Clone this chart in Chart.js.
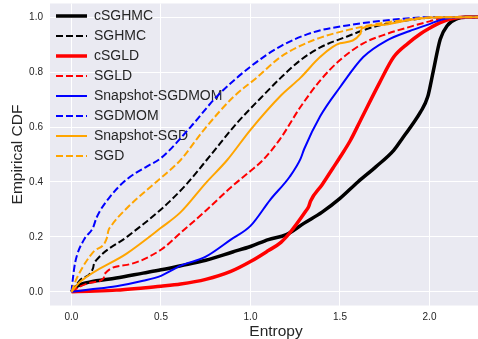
<!DOCTYPE html>
<html>
<head>
<meta charset="utf-8">
<script src="https://cdn.jsdelivr.net/npm/chart.js@4"></script>
<style>
  html, body { margin: 0; padding: 0; overflow: hidden; background: #fff; }
</style>
</head>
<body>
<canvas id="myChart" width="510" height="339"></canvas>
<script>
'use strict'

// tick labels
let xTicks = [0.0, 0.5, 1.0, 1.5, 2.0];
let yTicks = [0.0, 0.2, 0.4, 0.6, 0.8, 1.0];

let seriesNames = ['cSGHMC', 'SGHMC', 'cSGLD', 'SGLD', 'Snapshot-SGDMOM', 'SGDMOM', 'Snapshot-SGD', 'SGD'];

// entropy (x) and empirical CDF (y)
let cSGHMCx = [0, 0.03, 0.1, 0.25, 0.4, 0.5, 0.61, 0.75, 0.9, 1.0, 1.1, 1.2, 1.3, 1.4, 1.5, 1.6, 1.7, 1.8, 1.85, 1.91, 1.95, 1.99, 2.02, 2.06, 2.1, 2.155, 2.2, 2.45];
let cSGHMCy = [0, 0.02, 0.035, 0.05, 0.068, 0.08, 0.095, 0.115, 0.145, 0.165, 0.19, 0.208, 0.25, 0.29, 0.34, 0.40, 0.455, 0.515, 0.56, 0.615, 0.655, 0.71, 0.80, 0.92, 0.97, 0.995, 1.0, 1.0];

let SGHMCx = [0, 0.05, 0.12, 0.125, 0.14, 0.31, 0.5, 0.64, 0.78, 0.925, 1.056, 1.17, 1.28, 1.39, 1.54, 1.69, 1.89, 2.05, 2.45];
let SGHMCy = [0, 0.044, 0.085, 0.1, 0.116, 0.2, 0.3, 0.39, 0.5, 0.615, 0.705, 0.78, 0.844, 0.89, 0.93, 0.965, 0.99, 1.0, 1.0];

let cSGLDx = [0, 0.1, 0.25, 0.4, 0.5, 0.61, 0.75, 0.89, 1.0, 1.1, 1.17, 1.22, 1.31, 1.325, 1.335, 1.4, 1.46, 1.5, 1.557, 1.615, 1.72, 1.8, 1.88, 1.95, 2.0, 2.06, 2.13, 2.2, 2.45];
let cSGLDy = [0, 0.002, 0.006, 0.014, 0.02, 0.028, 0.045, 0.074, 0.11, 0.15, 0.18, 0.215, 0.295, 0.31, 0.33, 0.39, 0.45, 0.49, 0.55, 0.625, 0.76, 0.855, 0.905, 0.94, 0.96, 0.98, 0.995, 1.0, 1.0];

let SGLDx = [0, 0.05, 0.12, 0.18, 0.185, 0.31, 0.5, 0.61, 0.75, 0.89, 1.0, 1.07, 1.165, 1.28, 1.39, 1.5, 1.63, 1.765, 1.89, 2.0, 2.1, 2.45];
let SGLDy = [0, 0.02, 0.035, 0.05, 0.065, 0.098, 0.153, 0.215, 0.295, 0.38, 0.44, 0.48, 0.556, 0.674, 0.77, 0.844, 0.905, 0.94, 0.965, 0.985, 1.0, 1.0];

let snapMOMx = [0, 0.1, 0.25, 0.4, 0.5, 0.61, 0.75, 0.89, 1.0, 1.11, 1.22, 1.28, 1.3, 1.39, 1.5, 1.63, 1.76, 1.89, 2.0, 2.06, 2.15, 2.45];
let snapMOMy = [0, 0.008, 0.02, 0.04, 0.058, 0.095, 0.128, 0.19, 0.24, 0.335, 0.42, 0.485, 0.52, 0.64, 0.745, 0.855, 0.915, 0.95, 0.975, 0.99, 1.0, 1.0];

let SGDMOMx = [0, 0.01, 0.02, 0.07, 0.12, 0.14, 0.22, 0.31, 0.42, 0.5, 0.665, 0.81, 1.0, 1.17, 1.35, 1.54, 1.78, 2.0, 2.45];
let SGDMOMy = [0, 0.06, 0.105, 0.19, 0.233, 0.27, 0.35, 0.41, 0.456, 0.487, 0.6, 0.71, 0.82, 0.895, 0.945, 0.97, 0.99, 1.0, 1.0];

let snapSGDx = [0, 0.05, 0.31, 0.5, 0.61, 0.75, 0.87, 1.0, 1.17, 1.28, 1.39, 1.5, 1.615, 1.62, 1.73, 1.89, 2.05, 2.45];
let snapSGDy = [0, 0.037, 0.14, 0.233, 0.29, 0.396, 0.48, 0.59, 0.715, 0.78, 0.856, 0.905, 0.94, 0.958, 0.972, 0.99, 1.0, 1.0];

let SGDx = [0, 0.03, 0.125, 0.2, 0.205, 0.22, 0.31, 0.42, 0.55, 0.61, 0.74, 0.905, 1.035, 1.17, 1.35, 1.54, 1.78, 2.05, 2.45];
let SGDy = [0, 0.05, 0.147, 0.2, 0.22, 0.238, 0.305, 0.37, 0.443, 0.48, 0.59, 0.71, 0.78, 0.856, 0.916, 0.953, 0.983, 1.0, 1.0];


function toPoints(xs, ys) {
  let pts = [];
  for (let i = 0; i < xs.length; i++) {
    pts.push({ x: xs[i], y: ys[i] });
  }
  return pts;
}

let seriesX = [cSGHMCx, SGHMCx, cSGLDx, SGLDx, snapMOMx, SGDMOMx, snapSGDx, SGDx];
let seriesY = [cSGHMCy, SGHMCy, cSGLDy, SGLDy, snapMOMy, SGDMOMy, snapSGDy, SGDy];
let seriesColors = ['#000000', '#000000', '#ff0000', '#ff0000', '#0000ff', '#0000ff', '#ffa500', '#ffa500'];
let seriesWidths = [3.5, 2, 3.5, 2, 2, 2, 2, 2];
let seriesDashed = [false, true, false, true, false, true, false, true];

let datasets = [];
for (let i = 0; i < seriesNames.length; i++) {
  datasets.push({
    label: seriesNames[i],
    data: toPoints(seriesX[i], seriesY[i]),
    borderColor: seriesColors[i],
    backgroundColor: seriesColors[i],
    borderWidth: seriesWidths[i],
    borderDash: seriesDashed[i] ? [7, 3] : [],
    pointRadius: 0,
    cubicInterpolationMode: 'monotone',
    fill: false,
    // later series drawn on top, like matplotlib
    order: seriesNames.length - i
  });
}

// grey plot background; legend sits in the top left corner
let plotBackground = {
  id: 'plotBackground',
  beforeDraw(chart) {
    let a = chart.chartArea;
    let ctx = chart.ctx;
    ctx.save();
    ctx.fillStyle = '#EAEAF2';
    ctx.fillRect(a.left, a.top, a.right - a.left, a.bottom - a.top);
    ctx.restore();
    chart.legend.top = 3;
  }
};

function noPadding(scale) {
  scale.paddingTop = 0;
  scale.paddingBottom = 0;
  scale.paddingLeft = 0;
  scale.paddingRight = 0;
}

let font = 'Liberation Sans, Arial, sans-serif';
let textColor = '#262626';

let ctx = document.getElementById('myChart').getContext('2d');
let chart = new Chart(ctx, {
  type: 'line',
  data: { datasets: datasets },
  plugins: [plotBackground],
  options: {
    responsive: false,
    animation: false,
    layout: { autoPadding: false, padding: { top: 3.5, right: 8, left: 0, bottom: 0 } },
    plugins: {
      legend: {
        position: 'chartArea',
        align: 'start',
        labels: {
          font: { family: font, size: 14 },
          color: textColor,
          usePointStyle: true,
          pointStyle: 'line',
          pointStyleWidth: 31,
          boxHeight: 14,
          padding: 6,
          sort: (a, b) => a.datasetIndex - b.datasetIndex,
          generateLabels: (chart) => {
            let items = Chart.defaults.plugins.legend.labels.generateLabels(chart);
            items.forEach((item) => {
              let ds = chart.data.datasets[item.datasetIndex];
              item.lineDash = ds.borderDash;
              item.lineWidth = ds.borderWidth;
              item.strokeStyle = ds.borderColor;
            });
            return items;
          }
        }
      },
      tooltip: { enabled: false }
    },
    scales: {
      x: {
        type: 'linear',
        min: -0.12,
        max: 2.405,
        afterBuildTicks: (scale) => { scale.ticks = xTicks.map(v => ({ value: v })); },
        afterFit: (scale) => { scale.height = 33.5; noPadding(scale); },
        grid: { color: '#ffffff', lineWidth: 1, drawTicks: false },
        border: { display: false },
        ticks: {
          padding: 6,
          font: { family: font, size: 10 },
          color: textColor,
          callback: (v) => v.toFixed(1)
        },
        title: {
          display: true,
          text: 'Entropy',
          font: { family: font, size: 15.5, lineHeight: 1 },
          color: textColor,
          padding: 0
        }
      },
      y: {
        type: 'linear',
        min: -0.05,
        max: 1.05,
        afterBuildTicks: (scale) => { scale.ticks = yTicks.map(v => ({ value: v })); },
        afterFit: (scale) => { scale.width = 50; noPadding(scale); },
        grid: { color: '#ffffff', lineWidth: 1, drawTicks: false },
        border: { display: false },
        ticks: {
          padding: 7,
          font: { family: font, size: 10 },
          color: textColor,
          callback: (v) => v.toFixed(1)
        },
        title: {
          display: true,
          text: 'Empirical CDF',
          font: { family: font, size: 15.5 },
          color: textColor,
          padding: { top: 8, bottom: 4 }
        }
      }
    }
  }
});
</script>
</body>
</html>
